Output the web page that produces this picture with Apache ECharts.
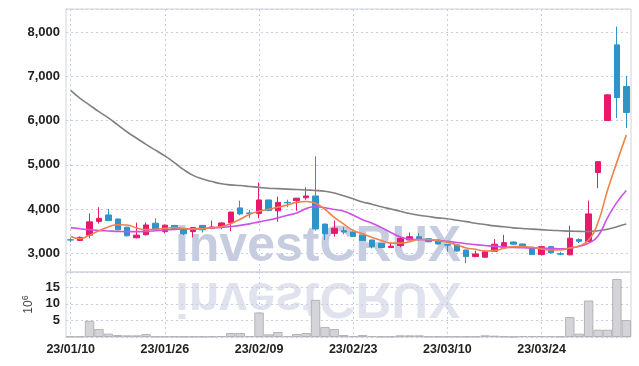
<!DOCTYPE html>
<html><head><meta charset="utf-8">
<script src="https://cdn.jsdelivr.net/npm/echarts@6/dist/echarts.min.js"></script>
<style>html,body{margin:0;padding:0;background:#fff}#c{width:639px;height:366px}</style>
</head><body><div id="c"></div>
<script>
const dates = ['23/01/10','23/01/11','23/01/12','23/01/13','23/01/16','23/01/17','23/01/18','23/01/19','23/01/20','23/01/25',
'23/01/26','23/01/27','23/01/30','23/01/31','23/02/01','23/02/02','23/02/03','23/02/06','23/02/07','23/02/08',
'23/02/09','23/02/10','23/02/13','23/02/14','23/02/15','23/02/16','23/02/17','23/02/20','23/02/21','23/02/22',
'23/02/23','23/02/24','23/02/27','23/02/28','23/03/02','23/03/03','23/03/06','23/03/07','23/03/08','23/03/09',
'23/03/10','23/03/13','23/03/14','23/03/15','23/03/16','23/03/17','23/03/20','23/03/21','23/03/22','23/03/23',
'23/03/24','23/03/27','23/03/28','23/03/29','23/03/30','23/03/31','23/04/03','23/04/04','23/04/05','23/04/06'];

const opens  = [3305,3290,3410,3720,3866,3775,3590,3350,3420,3680, 3490,3630,3555,3490,3630,3560,3590,3690,4025,3910,
                3900,4205,3960,4150,4190,4255,4295,3660,3450,3510, 3480,3410,3300,3225,3130,3175,3300,3375,3330,3300,
                3195,3190,3075,2925,2910,3045,3140,3255,3210,3135, 2970,3150,2990,2965,3310,3265,4825,6000,7710,6770];
const closes = [3300,3360,3710,3790,3740,3530,3395,3410,3640,3540, 3635,3560,3440,3580,3530,3595,3685,3930,3890,3900,
                4205,3965,4150,4140,4245,4295,3550,3440,3565,3480, 3380,3290,3150,3130,3160,3340,3375,3320,3260,3210,
                3185,3050,2925,2985,3035,3205,3240,3205,3150,2970, 3150,3015,2980,3340,3270,3890,5070,6580,6520,6180];
const lows   = [3250,3280,3340,3670,3725,3520,3380,3340,3400,3530, 3450,3550,3410,3360,3470,3545,3545,3500,3860,3800,
                3790,3960,3710,4040,3960,4210,3510,3300,3375,3430, 3370,3280,3110,3120,3125,3135,3290,3280,3250,3200,
                3035,3040,2775,2915,2905,3040,3130,3195,3145,2965, 2955,2985,2955,2955,3230,3255,4470,5990,6055,5830];
const highs  = [3350,3380,3900,4040,4000,3780,3600,3690,3700,3790, 3650,3640,3560,3590,3640,3740,3700,3940,4190,3980,
                4600,4210,4280,4210,4250,4490,5190,3670,3740,3600, 3490,3420,3310,3230,3250,3380,3470,3460,3340,3310,
                3205,3200,3080,3060,3075,3320,3415,3265,3220,3140, 3160,3160,3035,3625,3340,4190,5075,6590,8125,7010];

const volumes = [0.15,0.2,4.9,2.4,1.0,0.6,0.5,0.5,0.9,0.2, 0.2,0.2,0.15,0.2,0.2,0.2,0.3,1.2,1.2,0.3,
                 7.4,0.8,1.5,0.3,0.9,1.2,11.2,3.0,2.4,0.6, 0.3,0.6,0.3,0.2,0.2,0.5,0.5,0.5,0.2,0.2,
                 0.2,0.2,0.2,0.2,0.5,0.4,0.2,0.1,0.3,0.3, 0.3,0.3,0.2,6.0,1.0,11.0,2.2,2.2,17.5,5.1];

const maShort = [3380,3330,3410,3510,3595,3645,3640,3570,3535,3543, 3565,3580,3565,3545,3555,3575,3602,3670,3770,3880,
                 3950,3995,4040,4090,4150,4170,4130,3990,3810,3660, 3515,3440,3360,3290,3230,3230,3262,3310,3310,3285,
                 3250,3188,3120,3090,3052,3059,3113,3150,3150,3136, 3097,3075,3075,3120,3165,3300,3700,4420,5060,5670];
const maMid   = [3580,3555,3530,3515,3505,3495,3490,3490,3495,3510, 3525,3540,3548,3555,3560,3570,3585,3605,3630,3665,
                 3710,3750,3800,3860,3910,4010,4050,4030,3990,3950, 3860,3760,3680,3580,3470,3370,3320,3310,3300,3290,
                 3270,3245,3215,3195,3175,3155,3140,3130,3125,3120, 3115,3110,3100,3115,3160,3230,3390,3800,4150,4420];
const maLong  = [6680,6500,6350,6200,6060,5900,5740,5600,5460,5330, 5200,5050,4890,4760,4680,4620,4570,4545,4530,4510,
                 4490,4470,4460,4450,4440,4430,4420,4400,4360,4300, 4230,4160,4110,4050,4000,3950,3900,3860,3830,3800,
                 3780,3745,3715,3680,3650,3620,3600,3575,3560,3545, 3535,3520,3510,3500,3495,3490,3510,3545,3600,3660];

const priceTicks = [3000,4000,5000,6000,7000,8000];
const volumeTicks = [5,10,15];

const FONT = "'Liberation Sans', Arial, sans-serif";
const UP = '#e8196a', DOWN = '#2e95c8';
const gridLine = {show:true, lineStyle:{color:'#c8cee0', width:1, type:[2,3]}};

function fmt(v){ return String(v).replace(/\B(?=(\d{3})+(?!\d))/g, ','); }

const chart = echarts.init(document.getElementById('c'));
chart.setOption({
  animation:false,
  backgroundColor:'#fff',
  graphic:[
    {type:'text', x:318, y:272, z:-5, silent:true,
     style:{text:'investCRUX', font:'bold 50px "Liberation Sans", Arial, sans-serif', fill:'#c6cde1', align:'center', verticalAlign:'bottom'}},
    {type:'text', x:318, y:272, scaleY:-1, z:-5, silent:true,
     style:{text:'investCRUX', font:'bold 50px "Liberation Sans", Arial, sans-serif', fill:'#e0e3ee', align:'center', verticalAlign:'bottom'}}
  ],
  grid:[
    {left:66, right:8, top:9, height:263, show:true, borderColor:'#d0d2da', borderWidth:1, backgroundColor:'transparent'},
    {left:66, right:8, top:272, height:65, show:true, borderColor:'#d0d2da', borderWidth:1, backgroundColor:'transparent'}
  ],
  xAxis:[
    {type:'category', gridIndex:0, data:dates, boundaryGap:true,
     axisLine:{show:false}, axisTick:{show:false}, axisLabel:{show:false},
     splitLine:Object.assign({interval:9, alignWithLabel:true}, gridLine)},
    {type:'category', gridIndex:1, data:dates, boundaryGap:true,
     axisLine:{show:false}, axisTick:{show:false},
     axisLabel:{show:true, interval:9, color:'#222', fontWeight:'bold', fontSize:12.5, fontFamily:FONT, margin:6},
     splitLine:Object.assign({interval:9, alignWithLabel:true}, gridLine)}
  ],
  yAxis:[
    {type:'value', gridIndex:0, min:2577, max:8520, splitNumber:6, scale:true,
     axisLine:{show:false}, axisTick:{show:false},
     axisLabel:{showMinLabel:false, showMaxLabel:false, color:'#222', fontWeight:'bold', fontSize:13, fontFamily:FONT, margin:6,
       formatter:v=>priceTicks.includes(v)?fmt(v):''},
     splitLine:gridLine},
    {type:'value', gridIndex:1, min:0, max:19.6, interval:5,
     axisLine:{show:false}, axisTick:{show:false},
     axisLabel:{showMaxLabel:false, color:'#222', fontWeight:'bold', fontSize:13, fontFamily:FONT, margin:6,
       formatter:v=>volumeTicks.includes(v)?String(v):''},
     splitLine:gridLine,
     name:'10{s|6}', nameLocation:'middle', nameGap:22, nameRotate:90,
     nameTextStyle:{color:'#444', fontSize:12, fontFamily:FONT, rich:{s:{fontSize:9, verticalAlign:'top', color:'#444', fontFamily:FONT, padding:[0,0,6,0]}}}}
  ],
  series:[
    {type:'bar', xAxisIndex:1, yAxisIndex:1, data:volumes, barWidth:'100%',
     itemStyle:{color:'#d4d4d8', borderColor:'#b3b3b8', borderWidth:1}},
    {type:'candlestick', xAxisIndex:0, yAxisIndex:0, barWidth:6,
     data:dates.map((d,i)=>[opens[i],closes[i],lows[i],highs[i]]),
     itemStyle:{color:UP, color0:DOWN, borderColor:UP, borderColor0:DOWN, borderWidth:1}},
    {type:'line', xAxisIndex:0, yAxisIndex:0, data:maLong, smooth:true, showSymbol:false, z:3,
     lineStyle:{color:'#808080', width:1.6}},
    {type:'line', xAxisIndex:0, yAxisIndex:0, data:maMid, smooth:true, showSymbol:false, z:3,
     lineStyle:{color:'#cc52e6', width:1.6}},
    {type:'line', xAxisIndex:0, yAxisIndex:0, data:maShort, smooth:true, showSymbol:false, z:3,
     lineStyle:{color:'#f0824a', width:1.6}}
  ]
});
</script></body></html>
